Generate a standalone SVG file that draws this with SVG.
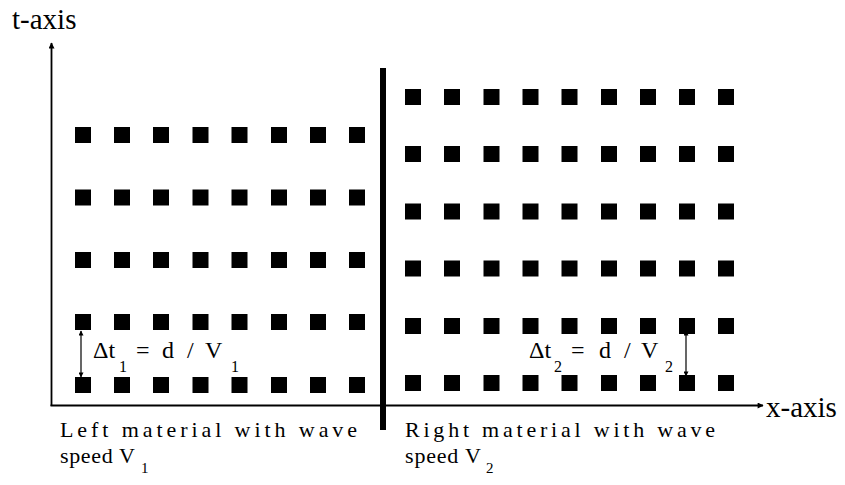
<svg xmlns="http://www.w3.org/2000/svg" width="845" height="485" viewBox="0 0 845 485">
<style>
.sq{fill:#000}
.ax{stroke:#000;stroke-width:1.8;fill:none}
.dt{stroke:#000;stroke-width:1.2;fill:none}
.lbl{font-family:"Liberation Serif","Times New Roman",serif;fill:#000}
.axl{font-size:29px}
.big{font-size:24px}
.sub{font-size:16px}
.cap{font-size:22px}
.csub{font-size:15px}
</style>
<defs>
<marker id="ah" viewBox="0 0 10 10" refX="9" refY="5" markerWidth="8" markerHeight="6" markerUnits="userSpaceOnUse" orient="auto">
<path d="M0,0 L10,5 L0,10 z" fill="#000"/>
</marker>
<marker id="sh" viewBox="0 0 10 10" refX="9" refY="5" markerWidth="6" markerHeight="5" markerUnits="userSpaceOnUse" orient="auto-start-reverse">
<path d="M0,0 L10,5 L0,10 z" fill="#000"/>
</marker>
<rect id="s" width="16" height="16" class="sq"/>
</defs>
<rect width="845" height="485" fill="#fff"/>

<g id="connectors">
<line class="ax" x1="51.5" y1="406" x2="51.5" y2="43" marker-end="url(#ah)"/>
<line class="ax" x1="50.5" y1="405.5" x2="763" y2="405.5" marker-end="url(#ah)"/>
<line class="dt" x1="81" y1="331" x2="81" y2="377" marker-start="url(#sh)" marker-end="url(#sh)"/>
<line class="dt" x1="686" y1="331" x2="686" y2="376" marker-start="url(#sh)" marker-end="url(#sh)"/>
</g>

<g id="boundary">
<rect x="380" y="68" width="6" height="362" fill="#000"/>
</g>

<g id="t-axis-label"><text class="lbl axl" x="12" y="29">t-axis</text></g>
<g id="x-axis-label"><text class="lbl axl" x="766" y="417">x-axis</text></g>

<g id="left-grid">
<g transform="translate(0,127)">
<use href="#s" x="75"/><use href="#s" x="114"/><use href="#s" x="153"/><use href="#s" x="192.5"/><use href="#s" x="231.5"/><use href="#s" x="271"/><use href="#s" x="310"/><use href="#s" x="349"/>
</g>
<g transform="translate(0,189.5)">
<use href="#s" x="75"/><use href="#s" x="114"/><use href="#s" x="153"/><use href="#s" x="192.5"/><use href="#s" x="231.5"/><use href="#s" x="271"/><use href="#s" x="310"/><use href="#s" x="349"/>
</g>
<g transform="translate(0,252)">
<use href="#s" x="75"/><use href="#s" x="114"/><use href="#s" x="153"/><use href="#s" x="192.5"/><use href="#s" x="231.5"/><use href="#s" x="271"/><use href="#s" x="310"/><use href="#s" x="349"/>
</g>
<g transform="translate(0,314)">
<use href="#s" x="75"/><use href="#s" x="114"/><use href="#s" x="153"/><use href="#s" x="192.5"/><use href="#s" x="231.5"/><use href="#s" x="271"/><use href="#s" x="310"/><use href="#s" x="349"/>
</g>
<g transform="translate(0,377)">
<use href="#s" x="75"/><use href="#s" x="114"/><use href="#s" x="153"/><use href="#s" x="192.5"/><use href="#s" x="231.5"/><use href="#s" x="271"/><use href="#s" x="310"/><use href="#s" x="349"/>
</g>
</g>

<g id="right-grid">
<g transform="translate(0,89)">
<use href="#s" x="405"/><use href="#s" x="444"/><use href="#s" x="483.5"/><use href="#s" x="522.5"/><use href="#s" x="561.5"/><use href="#s" x="601"/><use href="#s" x="640"/><use href="#s" x="679"/><use href="#s" x="718"/>
</g>
<g transform="translate(0,146)">
<use href="#s" x="405"/><use href="#s" x="444"/><use href="#s" x="483.5"/><use href="#s" x="522.5"/><use href="#s" x="561.5"/><use href="#s" x="601"/><use href="#s" x="640"/><use href="#s" x="679"/><use href="#s" x="718"/>
</g>
<g transform="translate(0,203.5)">
<use href="#s" x="405"/><use href="#s" x="444"/><use href="#s" x="483.5"/><use href="#s" x="522.5"/><use href="#s" x="561.5"/><use href="#s" x="601"/><use href="#s" x="640"/><use href="#s" x="679"/><use href="#s" x="718"/>
</g>
<g transform="translate(0,260.5)">
<use href="#s" x="405"/><use href="#s" x="444"/><use href="#s" x="483.5"/><use href="#s" x="522.5"/><use href="#s" x="561.5"/><use href="#s" x="601"/><use href="#s" x="640"/><use href="#s" x="679"/><use href="#s" x="718"/>
</g>
<g transform="translate(0,318)">
<use href="#s" x="405"/><use href="#s" x="444"/><use href="#s" x="483.5"/><use href="#s" x="522.5"/><use href="#s" x="561.5"/><use href="#s" x="601"/><use href="#s" x="640"/><use href="#s" x="679"/><use href="#s" x="718"/>
</g>
<g transform="translate(0,375)">
<use href="#s" x="405"/><use href="#s" x="444"/><use href="#s" x="483.5"/><use href="#s" x="522.5"/><use href="#s" x="561.5"/><use href="#s" x="601"/><use href="#s" x="640"/><use href="#s" x="679"/><use href="#s" x="718"/>
</g>
</g>

<g id="dt1-label" class="lbl">
<text class="big" x="93" y="358">Δt</text>
<text class="sub" x="119" y="372">1</text>
<text class="big" x="136" y="358">=</text>
<text class="big" x="162" y="358">d</text>
<text class="big" x="187" y="358">/</text>
<text class="big" x="205" y="358">V</text>
<text class="sub" x="231" y="372">1</text>
</g>

<g id="dt2-label" class="lbl">
<text class="big" x="529" y="358">Δt</text>
<text class="sub" x="554" y="372">2</text>
<text class="big" x="571" y="358">=</text>
<text class="big" x="599" y="358">d</text>
<text class="big" x="624" y="358">/</text>
<text class="big" x="641" y="358">V</text>
<text class="sub" x="665" y="372">2</text>
</g>

<g id="left-caption" class="lbl cap">
<text x="60" y="437" textLength="297" lengthAdjust="spacing">Left material with wave</text>
<text x="60" y="463" textLength="75" lengthAdjust="spacing">speed V</text>
<text class="csub" x="141" y="473">1</text>
</g>

<g id="right-caption" class="lbl cap">
<text x="405" y="437" textLength="310" lengthAdjust="spacing">Right material with wave</text>
<text x="405" y="463" textLength="76" lengthAdjust="spacing">speed V</text>
<text class="csub" x="486" y="473">2</text>
</g>
</svg>
